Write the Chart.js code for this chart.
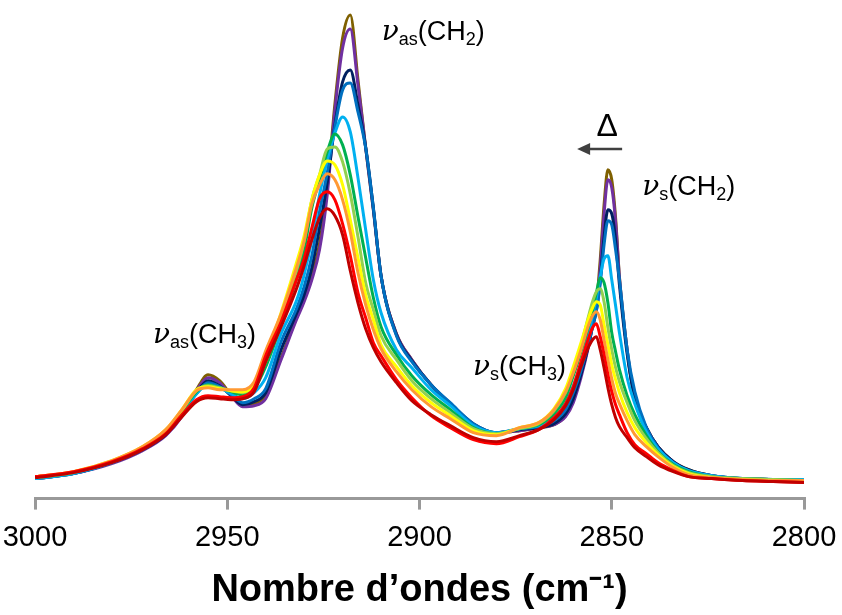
<!DOCTYPE html>
<html>
<head>
<meta charset="utf-8">
<script src="https://cdn.jsdelivr.net/npm/chart.js@4.4.0/dist/chart.umd.min.js"></script>
<style>
    html, body { margin: 0; padding: 0; background: #fff; }
    #wrap { width: 842px; height: 615px; }
</style>
</head>
<body>
<div id="wrap"><canvas id="chart" width="842" height="615"></canvas></div>
<script>
// Wavenumbers (cm-1) shared by every spectrum
const wavenumbers = [3000, 2990, 2980, 2972, 2966, 2962, 2958, 2955, 2952, 2949, 2946, 2943, 2940, 2936, 2932, 2930, 2928, 2926, 2924, 2922, 2920, 2918, 2916, 2914, 2912, 2910, 2906, 2902, 2897, 2892, 2886, 2880, 2874, 2869, 2865, 2862, 2860, 2858, 2856, 2855, 2854, 2853, 2852, 2851, 2850, 2849, 2848, 2846, 2844, 2841, 2838, 2834, 2830, 2824, 2816, 2808, 2800];

// Absorbance (a.u. x1000), coldest to hottest
const absOlive   = [21, 26, 36, 49, 64, 82, 109, 124, 118, 104, 93, 95, 103, 141, 181, 200, 223, 255, 311, 395, 461, 484, 419, 351, 289, 223, 165, 139, 114, 95, 74, 66, 68, 71, 74, 83, 99, 124, 156, 177, 195, 239, 294, 329, 319, 281, 222, 149, 99, 71, 52, 37, 29, 23, 20, 19, 18];
const absPurple  = [20, 25, 35, 48, 63, 81, 108, 121, 116, 103, 92, 93, 100, 139, 179, 197, 219, 249, 304, 389, 451, 470, 414, 351, 289, 223, 165, 139, 114, 95, 74, 66, 68, 71, 74, 82, 96, 121, 153, 173, 191, 231, 285, 319, 311, 277, 221, 149, 99, 71, 52, 37, 28, 23, 20, 19, 18];
const absNavy    = [20, 25, 36, 49, 64, 83, 106, 118, 113, 103, 94, 97, 106, 149, 185, 204, 231, 271, 316, 374, 417, 429, 394, 352, 291, 223, 164, 138, 114, 95, 75, 66, 69, 71, 75, 85, 100, 124, 154, 172, 188, 219, 262, 289, 285, 259, 214, 145, 101, 71, 52, 37, 29, 23, 20, 19, 19];
const absBlue    = [20, 25, 36, 49, 65, 84, 105, 116, 112, 104, 96, 100, 110, 157, 190, 212, 243, 287, 326, 372, 409, 416, 387, 351, 291, 223, 163, 137, 114, 96, 75, 66, 70, 72, 78, 89, 106, 128, 156, 172, 188, 215, 254, 278, 274, 249, 219, 149, 107, 71, 51, 36, 28, 23, 20, 19, 19];
const absSky     = [20, 25, 36, 50, 66, 85, 105, 114, 111, 105, 100, 106, 121, 165, 198, 224, 259, 304, 339, 366, 382, 367, 321, 269, 219, 186, 149, 131, 109, 93, 73, 66, 70, 73, 81, 95, 113, 135, 165, 183, 201, 222, 240, 243, 219, 193, 166, 121, 95, 67, 50, 36, 28, 23, 20, 19, 19];
const absGreen   = [21, 26, 37, 51, 67, 86, 107, 114, 111, 107, 104, 110, 132, 174, 220, 249, 291, 319, 347, 365, 354, 324, 282, 241, 201, 172, 144, 123, 104, 89, 71, 65, 70, 74, 85, 101, 123, 147, 173, 188, 206, 221, 216, 196, 166, 147, 129, 103, 84, 63, 47, 34, 27, 22, 20, 19, 18];
const absLime    = [21, 26, 37, 51, 68, 87, 108, 113, 111, 108, 106, 113, 137, 181, 228, 258, 299, 324, 350, 352, 337, 305, 262, 216, 189, 163, 139, 118, 100, 86, 70, 65, 70, 75, 88, 106, 128, 153, 183, 197, 207, 210, 197, 171, 149, 131, 117, 96, 78, 60, 46, 33, 26, 22, 20, 19, 18];
const absYellow  = [22, 27, 38, 52, 69, 88, 109, 112, 110, 108, 107, 114, 142, 186, 236, 263, 299, 324, 338, 334, 314, 279, 241, 204, 179, 154, 132, 113, 96, 83, 68, 64, 71, 76, 90, 110, 132, 156, 181, 191, 197, 194, 174, 154, 134, 119, 106, 86, 71, 56, 44, 32, 25, 21, 19, 18, 18];
const absOrange  = [22, 27, 38, 52, 69, 88, 108, 111, 109, 109, 109, 117, 148, 185, 231, 258, 295, 314, 325, 319, 299, 267, 226, 194, 169, 150, 127, 109, 92, 80, 66, 63, 71, 76, 89, 107, 126, 149, 174, 183, 187, 179, 159, 139, 120, 105, 95, 78, 64, 52, 42, 31, 24, 21, 19, 18, 18];
const absRed     = [22, 27, 37, 50, 65, 83, 99, 103, 102, 101, 102, 111, 143, 177, 219, 240, 271, 300, 307, 299, 275, 243, 206, 181, 156, 143, 119, 101, 83, 71, 59, 55, 62, 69, 81, 95, 112, 137, 161, 171, 175, 162, 144, 124, 107, 94, 84, 66, 54, 45, 36, 28, 22, 20, 18, 17, 16];
const absDarkRed = [21, 26, 36, 49, 64, 81, 97, 101, 100, 99, 100, 107, 137, 172, 210, 233, 259, 281, 290, 283, 264, 228, 196, 170, 151, 137, 116, 98, 84, 73, 61, 57, 63, 69, 79, 93, 109, 132, 152, 159, 162, 149, 131, 111, 94, 81, 72, 61, 51, 42, 34, 27, 22, 20, 18, 17, 16];

// Top-most first (Chart.js draws the first dataset on top)
const seriesData   = [absDarkRed, absRed, absOrange, absYellow, absLime, absGreen, absSky, absBlue, absNavy, absPurple, absOlive];
const seriesColors = ['#C00000', '#FF0000', '#FF9933', '#FFFF00', '#92D050', '#00B050', '#00B0F0', '#0070C0', '#002060', '#7030A0', '#7F6000'];

const xTicks = [3000, 2950, 2900, 2850, 2800];
const xTitle = 'Nombre d\u2019ondes (cm\u207B\u00B9)';

// Band assignments: [wavenumber, absorbance] of the text start, mode, group
const bandLabels = [
    { wn: 2909.8, abs: 459, mode: 'as', group: '2' },
    { wn: 2842.1, abs: 304, mode: 's',  group: '2' },
    { wn: 2969.3, abs: 156, mode: 'as', group: '3' },
    { wn: 2886.1, abs: 124, mode: 's',  group: '3' }
];
const deltaLabel = { wn: 2851.2, abs: 363, text: '\u0394' };
const deltaArrow = { from: 2847.3, to: 2859.0, abs: 350 };

/**
 * Draws a label like "nu_as(CH_2)" starting at the given pixel
 */
function drawBandLabel(ctx, px, py, mode, group) {
    const parts = [
        { text: '\u03BD', font: 'italic 28px "DejaVu Serif"', dy: 0 },
        { text: mode, font: '18px "Liberation Sans"', dy: 5 },
        { text: '(CH', font: '27px "Liberation Sans"', dy: 0 },
        { text: group, font: '18px "Liberation Sans"', dy: 5 },
        { text: ')', font: '27px "Liberation Sans"', dy: 0 }
    ];
    let cx = px;
    parts.forEach(p => {
        ctx.font = p.font;
        ctx.fillText(p.text, cx, py + p.dy);
        cx += ctx.measureText(p.text).width;
    });
}

const labelsPlugin = {
    id: 'bandLabels',
    afterDatasetsDraw(chart) {
        const { ctx, scales: { x, y } } = chart;
        ctx.save();
        ctx.fillStyle = '#000';
        ctx.textAlign = 'left';
        ctx.textBaseline = 'alphabetic';
        bandLabels.forEach(l => drawBandLabel(ctx, x.getPixelForValue(l.wn), y.getPixelForValue(l.abs), l.mode, l.group));

        // Heating direction
        ctx.font = '32px "Liberation Sans"';
        ctx.textAlign = 'center';
        ctx.fillText(deltaLabel.text, x.getPixelForValue(deltaLabel.wn), y.getPixelForValue(deltaLabel.abs));

        const ay = y.getPixelForValue(deltaArrow.abs);
        const x0 = x.getPixelForValue(deltaArrow.from);
        const x1 = x.getPixelForValue(deltaArrow.to);
        ctx.strokeStyle = '#404040';
        ctx.fillStyle = '#404040';
        ctx.lineWidth = 2.5;
        ctx.beginPath();
        ctx.moveTo(x0, ay);
        ctx.lineTo(x1 + 10, ay);
        ctx.stroke();
        ctx.beginPath();
        ctx.moveTo(x1, ay);
        ctx.lineTo(x1 + 13, ay - 6);
        ctx.lineTo(x1 + 13, ay + 6);
        ctx.closePath();
        ctx.fill();
        ctx.restore();
    }
};

new Chart(document.getElementById('chart'), {
    type: 'line',
    data: {
        datasets: seriesData.map((arr, i) => ({
            data: wavenumbers.map((w, j) => ({ x: w, y: arr[j] })),
            borderColor: seriesColors[i],
            borderWidth: 3,
            pointRadius: 0,
            fill: false,
            cubicInterpolationMode: 'monotone'
        }))
    },
    options: {
        responsive: false,
        animation: false,
        devicePixelRatio: 1,
        layout: { padding: { top: 9, left: 35, right: 38, bottom: 0 } },
        plugins: {
            legend: { display: false },
            tooltip: { enabled: false }
        },
        scales: {
            x: {
                type: 'linear',
                reverse: true,
                min: 2800,
                max: 3000,
                afterBuildTicks: axis => { axis.ticks = xTicks.map(v => ({ value: v })); },
                // let the layout padding alone decide where 3000 and 2800 sit
                afterFit: axis => { axis.paddingLeft = 0; axis.paddingRight = 0; },
                border: { display: true, color: '#999999', width: 3 },
                grid: {
                    display: true,
                    drawOnChartArea: false,
                    drawTicks: true,
                    tickLength: 11,
                    color: '#999999',
                    lineWidth: 3
                },
                ticks: {
                    color: '#000',
                    padding: 11,
                    maxRotation: 0,
                    callback: v => String(v),
                    font: { family: 'Liberation Sans', size: 29 }
                },
                title: {
                    display: true,
                    text: xTitle,
                    color: '#000',
                    padding: { top: 1, bottom: 2 },
                    font: { family: 'Liberation Sans', size: 38, weight: 'bold' }
                }
            },
            y: {
                display: false,
                min: 0,
                max: 490
            }
        }
    },
    plugins: [labelsPlugin]
});
</script>
</body>
</html>
